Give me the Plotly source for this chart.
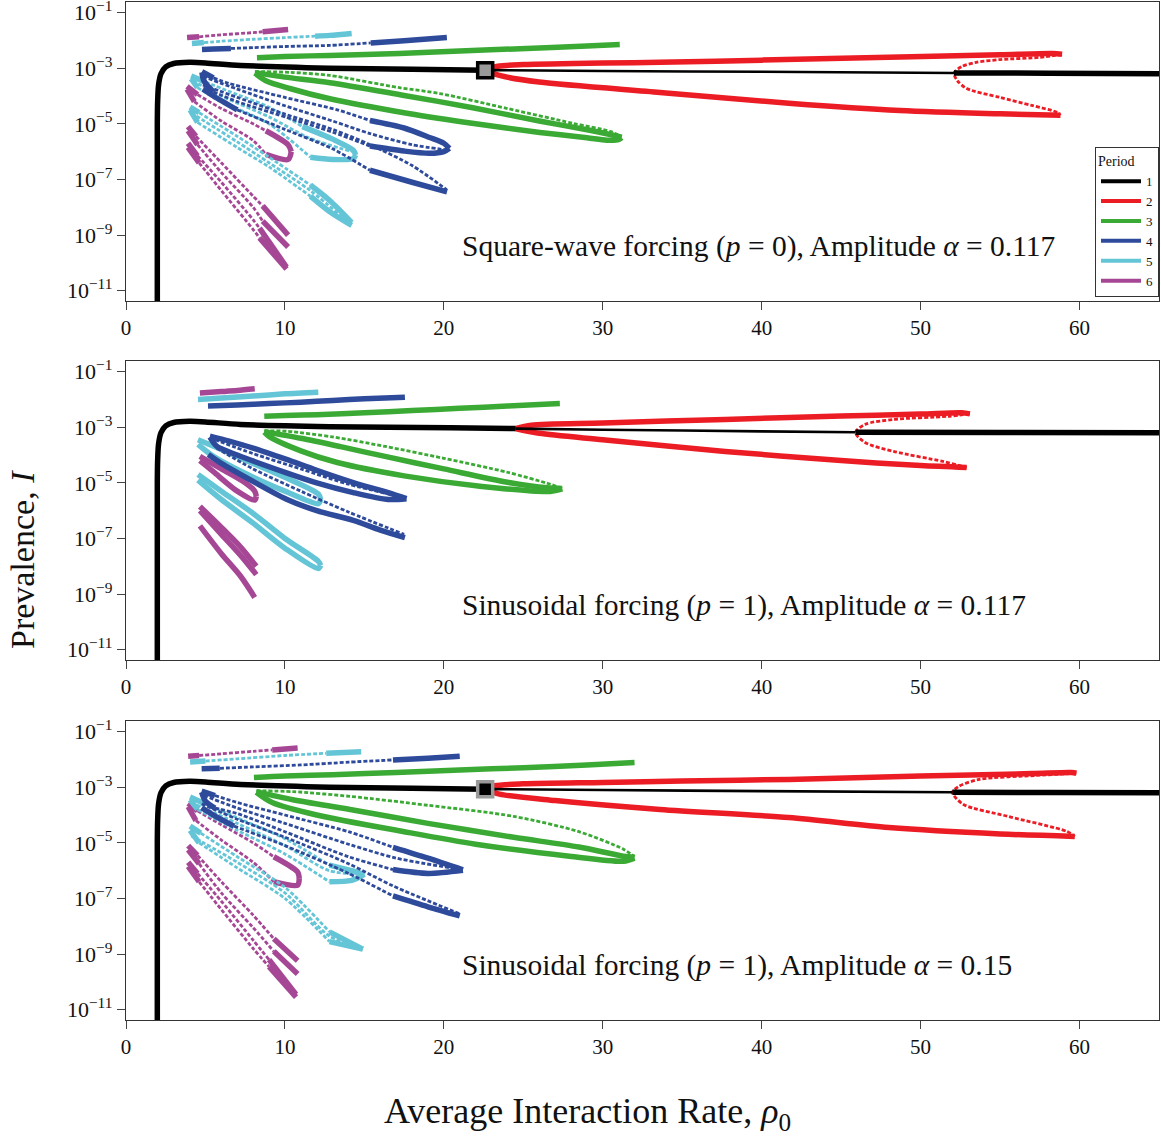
import plotly.graph_objects as go

# ---------------- colours ----------------
COLORS = {"black": "#000000", "red": "#EC1C24", "green": "#3AAA35",
          "blue": "#2E4A9B", "cyan": "#64C5D7", "magenta": "#A64795"}
PERIOD_LABELS = ["1", "2", "3", "4", "5", "6"]
PERIOD_COLORS = ["black", "red", "green", "blue", "cyan", "magenta"]
PANEL_TEXT = ["Square-wave forcing (<i>p</i> = 0), Amplitude <i>α</i> = 0.117",
              "Sinusoidal forcing (<i>p</i> = 1), Amplitude <i>α</i> = 0.117",
              "Sinusoidal forcing (<i>p</i> = 1), Amplitude <i>α</i> = 0.15"]
X_TICKS = [0, 10, 20, 30, 40, 50, 60]
Y_TICK_EXP = [-11, -9, -7, -5, -3, -1]
# branch data: rho0 values (X), log10 prevalence (E), stability flags (S stable / U unstable)

# ================= PANEL 1 : square wave, alpha 0.117 =================
P1_BLACK_X = [1.97, 1.97, 1.99, 2.05, 2.2, 2.5, 3.0, 4.0, 5.0, 7.2, 12.8, 18.0, 22.6, 30.0, 40.0, 52.1, 58.0, 65.0]
P1_BLACK_E = [-11.5, -5.0, -4.2, -3.6, -3.2, -2.95, -2.83, -2.79, -2.81, -2.9, -3.0, -3.04, -3.07, -3.1, -3.13, -3.17, -3.18, -3.2]
P1_BLACK_S = "SSSSSSSSSSSSSUUSSS"
P1_RED_X = [22.6, 23.4, 25.0, 30.0, 33.6, 40.0, 48.7, 55.0, 58.3, 58.9, 57.5, 55.0, 53.5, 52.6, 52.1, 52.3, 52.9, 55.0, 57.0, 58.6,
            58.8, 55.0, 48.7, 41.9, 33.6, 26.0, 23.5, 22.6]
P1_RED_E = [-3.07, -2.93, -2.87, -2.81, -2.79, -2.71, -2.6, -2.52, -2.47, -2.5, -2.61, -2.69, -2.79, -2.94, -3.17, -3.44, -3.73, -4.05, -4.34, -4.59,
            -4.69, -4.64, -4.52, -4.27, -3.87, -3.5, -3.26, -3.07]
P1_RED_S = "SSSSSSSSSSUUUUUUUUUUSSSSSSSS"
P1_GREEN_TOP_X = [8.24, 10.0, 12.8, 17.2, 21.0, 24.8, 29.0, 31.07]
P1_GREEN_TOP_E = [-2.62, -2.58, -2.54, -2.47, -2.38, -2.3, -2.2, -2.15]
P1_GREEN_D_X = [8.11, 10.31, 12.83, 17.2, 19.75, 24.0, 28.11, 30.5, 31.19]
P1_GREEN_D_E = [-3.12, -3.15, -3.26, -3.7, -3.91, -4.45, -4.98, -5.28, -5.47]
P1_GREEN_A_X = [8.11, 10.0, 12.83, 17.5, 21.82, 26.0, 29.18, 30.6, 31.19]
P1_GREEN_A_E = [-3.16, -3.32, -3.52, -3.98, -4.42, -4.9, -5.23, -5.4, -5.48]
P1_GREEN_B_X = [8.11, 8.8, 10.31, 12.83, 17.67, 22.0, 26.04, 29.0, 30.25, 31.0, 31.19]
P1_GREEN_B_E = [-3.18, -3.45, -3.73, -4.1, -4.62, -5.0, -5.31, -5.5, -5.59, -5.57, -5.5]
P1_BLUE_TOP_X = [4.78, 5.5, 6.6, 8.0, 10.0, 12.83, 15.4, 17.5, 20.19]
P1_BLUE_TOP_E = [-2.33, -2.31, -2.29, -2.26, -2.22, -2.18, -2.09, -2.01, -1.9]
P1_BLUE_TOP_S = "SSSUUUSSS"
P1_BLUE_LU_X = [4.78, 5.5, 6.5, 10.0, 13.3, 15.35, 17.5, 19.1, 20.0, 20.35]
P1_BLUE_LU_E = [-3.12, -3.35, -3.55, -4.05, -4.5, -4.88, -5.15, -5.49, -5.7, -5.88]
P1_BLUE_LU_S = "SSUUUSSSSS"
P1_BLUE_LL_X = [4.78, 4.9, 5.5, 7.0, 10.0, 13.0, 15.35, 17.5, 19.1, 20.0, 20.35]
P1_BLUE_LL_E = [-3.15, -3.45, -3.85, -4.2, -4.75, -5.3, -5.8, -5.98, -6.06, -6.0, -5.88]
P1_BLUE_LL_S = "SSSUUUSSSSS"
P1_BLUE_D1_X = [4.84, 7.0, 10.0, 13.0, 15.35, 18.0, 20.3]
P1_BLUE_D1_E = [-3.3, -3.75, -4.35, -4.9, -5.35, -5.75, -5.95]
P1_BLUE_D2_X = [4.84, 7.0, 10.0, 13.0, 15.35, 18.0, 20.2]
P1_BLUE_D2_E = [-3.6, -4.05, -4.65, -5.2, -5.75, -6.5, -7.38]
P1_BLUE_LOW_X = [4.84, 5.5, 7.0, 10.0, 13.0, 15.35, 18.0, 20.2]
P1_BLUE_LOW_E = [-3.75, -4.0, -4.5, -5.2, -5.9, -6.67, -7.1, -7.45]
P1_BLUE_LOW_S = "SSSUUSSS"
P1_CYAN_TOP_X = [4.15, 4.9, 6.0, 8.0, 10.0, 11.9, 12.83, 14.2]
P1_CYAN_TOP_E = [-2.11, -2.08, -2.03, -1.96, -1.9, -1.85, -1.82, -1.75]
P1_CYAN_TOP_S = "SSUUUSSS"
P1_CYAN_1U_X = [4.1, 5.0, 7.0, 9.0, 11.1, 13.0, 14.3, 14.45]
P1_CYAN_1U_E = [-3.28, -3.5, -3.95, -4.4, -5.1, -5.55, -5.95, -6.12]
P1_CYAN_1U_S = "SSUUSSSS"
P1_CYAN_1L_X = [4.1, 4.5, 6.0, 9.0, 11.6, 13.0, 14.3, 14.45]
P1_CYAN_1L_E = [-3.38, -3.7, -4.2, -5.0, -6.2, -6.28, -6.25, -6.12]
P1_CYAN_1L_S = "SSUUSSSS"
P1_CYAN_1D_X = [4.2, 6.0, 9.0, 11.5, 14.2]
P1_CYAN_1D_E = [-3.45, -4.0, -4.75, -5.5, -6.0]
P1_CYAN_2U_X = [4.03, 4.6, 7.0, 9.0, 11.6, 12.8, 14.2]
P1_CYAN_2U_E = [-4.4, -4.6, -5.45, -6.2, -7.2, -7.75, -8.55]
P1_CYAN_2U_S = "SSUUSSS"
P1_CYAN_2L_X = [4.03, 4.5, 7.0, 9.0, 11.6, 12.8, 14.2]
P1_CYAN_2L_E = [-4.5, -4.95, -5.85, -6.55, -7.6, -8.15, -8.65]
P1_CYAN_2L_S = "SSUUSSS"
P1_CYAN_2D_X = [4.1, 7.0, 9.0, 11.6, 14.1]
P1_CYAN_2D_E = [-4.6, -5.65, -6.4, -7.4, -8.6]
P1_MAG_TOP_X = [3.84, 4.6, 6.0, 8.0, 8.6, 10.2]
P1_MAG_TOP_E = [-1.9, -1.87, -1.8, -1.72, -1.69, -1.61]
P1_MAG_TOP_S = "SSUUSS"
P1_MAG_1U_X = [3.84, 4.5, 6.0, 8.0, 8.8, 10.2, 10.4]
P1_MAG_1U_E = [-3.65, -3.95, -4.45, -5.0, -5.25, -5.75, -6.0]
P1_MAG_1L_X = [3.84, 4.3, 6.0, 8.0, 8.8, 10.2, 10.4]
P1_MAG_1L_E = [-3.75, -4.2, -4.9, -5.6, -6.1, -6.28, -6.0]
P1_MAG_1_S = "SSUUSSS"
P1_MAG_2U_X = [3.9, 4.4, 6.0, 8.0, 8.6, 10.2]
P1_MAG_2U_E = [-5.1, -5.45, -6.4, -7.6, -7.95, -9.0]
P1_MAG_2L_X = [3.9, 4.5, 6.0, 8.0, 8.6, 10.2]
P1_MAG_2L_E = [-5.25, -5.75, -6.75, -8.0, -8.5, -9.43]
P1_MAG_3U_X = [3.9, 4.5, 6.0, 8.0, 8.4, 10.1]
P1_MAG_3U_E = [-5.7, -6.15, -7.1, -8.45, -8.75, -10.15]
P1_MAG_3L_X = [3.9, 4.6, 6.0, 8.0, 8.4, 10.1]
P1_MAG_3L_E = [-5.85, -6.4, -7.4, -8.8, -9.1, -10.22]
P1_MAG_23_S = "SSUUSS"
P1_SQUARE = (22.6, -3.07)

# ================= PANEL 2 : sinusoidal, alpha 0.117 =================
P2_BLACK_X = [1.97, 1.97, 1.99, 2.05, 2.2, 2.5, 3.0, 4.0, 5.0, 7.2, 12.8, 20.4, 24.5, 30.0, 40.0, 45.9, 55.0, 65.0]
P2_BLACK_E = [-11.5, -5.0, -4.2, -3.6, -3.2, -2.95, -2.83, -2.79, -2.81, -2.9, -2.98, -3.02, -3.05, -3.09, -3.15, -3.18, -3.19, -3.2]
P2_BLACK_S = "SSSSSSSSSSSSSUUSSS"
P2_RED_X = [24.5, 25.5, 30.0, 37.7, 45.0, 50.0, 52.6, 53.1, 51.7, 48.3, 46.5, 45.9, 46.5, 48.3, 51.4, 52.6,
            52.9, 50.0, 45.0, 37.7, 30.0, 26.0, 24.5]
P2_RED_E = [-3.05, -2.93, -2.85, -2.72, -2.6, -2.53, -2.48, -2.52, -2.61, -2.72, -2.9, -3.19, -3.55, -3.87, -4.23, -4.4,
            -4.45, -4.38, -4.2, -3.87, -3.45, -3.22, -3.05]
P2_RED_S = "SSSSSSSSUUUUUUUUSSSSSSS"
P2_GREEN_TOP_X = [8.7, 10.0, 12.0, 15.0, 18.0, 21.0, 24.0, 27.3]
P2_GREEN_TOP_E = [-2.61, -2.58, -2.55, -2.48, -2.4, -2.32, -2.24, -2.15]
P2_GREEN_D_X = [8.7, 10.2, 13.0, 16.3, 20.0, 24.0, 26.7, 27.45]
P2_GREEN_D_E = [-3.13, -3.15, -3.35, -3.69, -4.12, -4.62, -5.05, -5.2]
P2_GREEN_A_X = [8.7, 11.0, 13.5, 16.3, 20.0, 24.0, 26.5, 27.45]
P2_GREEN_A_E = [-3.16, -3.4, -3.7, -4.05, -4.5, -4.98, -5.18, -5.2]
P2_GREEN_B_X = [8.7, 9.0, 11.0, 13.3, 17.5, 22.4, 26.7, 27.45]
P2_GREEN_B_E = [-3.18, -3.33, -3.85, -4.27, -4.75, -5.13, -5.31, -5.22]
P2_BLUE_TOP_X = [5.16, 7.0, 9.0, 11.0, 13.0, 15.0, 17.55]
P2_BLUE_TOP_E = [-2.24, -2.2, -2.15, -2.1, -2.04, -1.98, -1.92]
P2_BLUE_LU_X = [5.28, 6.5, 8.0, 10.1, 12.0, 14.3, 16.5, 17.65]
P2_BLUE_LU_E = [-3.32, -3.5, -3.75, -4.16, -4.55, -4.99, -5.35, -5.57]
P2_BLUE_LL_X = [5.28, 5.7, 7.0, 10.1, 12.0, 14.3, 16.5, 17.65]
P2_BLUE_LL_E = [-3.36, -3.68, -4.0, -4.64, -5.0, -5.35, -5.6, -5.57]
P2_BLUE_D1_X = [5.6, 8.0, 11.0, 14.0, 17.3]
P2_BLUE_D1_E = [-3.45, -3.95, -4.5, -5.05, -5.5]
P2_BLUE_D2_X = [5.7, 8.0, 11.0, 14.0, 17.5]
P2_BLUE_D2_E = [-3.75, -4.5, -5.3, -6.05, -6.85]
P2_BLUE_LOW_X = [5.18, 6.0, 8.0, 10.1, 12.0, 14.3, 16.0, 17.55]
P2_BLUE_LOW_E = [-3.98, -4.3, -4.95, -5.59, -6.0, -6.35, -6.7, -6.97]
P2_CYAN_TOP_X = [4.53, 6.0, 8.0, 10.0, 12.1]
P2_CYAN_TOP_E = [-2.0, -1.95, -1.88, -1.8, -1.74]
P2_CYAN_1U_X = [4.53, 6.0, 8.0, 10.0, 12.1, 12.25]
P2_CYAN_1U_E = [-3.45, -3.8, -4.3, -4.8, -5.4, -5.6]
P2_CYAN_1L_X = [4.53, 5.5, 8.0, 10.0, 12.1, 12.25]
P2_CYAN_1L_E = [-3.62, -4.05, -4.8, -5.3, -5.75, -5.6]
P2_CYAN_2U_X = [4.53, 6.0, 8.0, 10.0, 12.1, 12.25]
P2_CYAN_2U_E = [-4.7, -5.3, -6.1, -7.0, -7.82, -7.97]
P2_CYAN_2L_X = [4.53, 6.0, 8.0, 10.0, 12.1, 12.25]
P2_CYAN_2L_E = [-4.9, -5.6, -6.45, -7.35, -8.08, -7.97]
P2_MAG_TOP_X = [4.65, 6.0, 7.0, 8.1]
P2_MAG_TOP_E = [-1.77, -1.72, -1.68, -1.62]
P2_MAG_1U_X = [4.65, 6.0, 7.5, 8.1, 8.2]
P2_MAG_1U_E = [-4.05, -4.5, -5.0, -5.3, -5.48]
P2_MAG_1L_X = [4.65, 5.5, 7.0, 8.1, 8.2]
P2_MAG_1L_E = [-4.2, -4.6, -5.3, -5.62, -5.48]
P2_MAG_2U_X = [4.65, 6.0, 7.2, 8.2]
P2_MAG_2U_E = [-5.85, -6.6, -7.3, -8.0]
P2_MAG_2L_X = [4.65, 6.0, 7.2, 8.2]
P2_MAG_2L_E = [-6.0, -6.85, -7.6, -8.3]
P2_MAG_3_X = [4.65, 6.0, 7.2, 8.1]
P2_MAG_3_E = [-6.55, -7.55, -8.35, -9.12]

# ================= PANEL 3 : sinusoidal, alpha 0.15 =================
P3_BLACK_X = [1.97, 1.97, 1.99, 2.05, 2.2, 2.5, 3.0, 4.0, 5.0, 7.2, 12.8, 18.0, 22.6, 30.0, 40.0, 52.0, 58.0, 65.0]
P3_BLACK_E = [-11.5, -5.0, -4.2, -3.6, -3.2, -2.95, -2.83, -2.79, -2.81, -2.9, -3.0, -3.04, -3.07, -3.1, -3.14, -3.18, -3.19, -3.2]
P3_BLACK_S = "SSSSSSSSSSSSSUUSSS"
P3_RED_X = [22.6, 23.2, 25.0, 30.0, 35.0, 41.7, 50.0, 57.0, 59.5, 59.8, 57.2, 53.7, 52.4, 52.0, 52.7, 55.5, 59.2,
            59.7, 55.0, 48.0, 41.7, 33.6, 27.0, 23.5, 22.6]
P3_RED_E = [-3.07, -2.95, -2.88, -2.83, -2.78, -2.72, -2.6, -2.51, -2.47, -2.5, -2.58, -2.72, -2.97, -3.19, -3.62, -4.05, -4.59,
            -4.77, -4.68, -4.45, -4.09, -3.8, -3.48, -3.25, -3.07]
P3_RED_S = "SSSSSSSSSSUUUUUUUSSSSSSSS"
P3_GREEN_TOP_X = [8.05, 10.0, 13.0, 17.0, 21.0, 25.0, 29.0, 32.0]
P3_GREEN_TOP_E = [-2.65, -2.6, -2.55, -2.47, -2.38, -2.3, -2.2, -2.11]
P3_GREEN_D_X = [8.2, 10.5, 14.1, 19.0, 24.4, 28.5, 31.3, 32.0]
P3_GREEN_D_E = [-3.13, -3.16, -3.33, -3.65, -4.05, -4.6, -5.23, -5.5]
P3_GREEN_A_X = [8.2, 10.5, 14.1, 19.0, 24.4, 28.5, 31.3, 32.0]
P3_GREEN_A_E = [-3.16, -3.45, -3.8, -4.3, -4.8, -5.15, -5.48, -5.52]
P3_GREEN_B_X = [8.2, 9.2, 12.0, 17.5, 22.0, 27.9, 31.3, 32.0]
P3_GREEN_B_E = [-3.18, -3.55, -4.0, -4.6, -5.05, -5.48, -5.66, -5.55]
P3_BLUE_TOP_X = [4.76, 5.9, 8.0, 11.0, 14.0, 16.8, 19.0, 21.0]
P3_BLUE_TOP_E = [-2.34, -2.32, -2.27, -2.2, -2.1, -2.02, -1.96, -1.89]
P3_BLUE_TOP_S = "SSUUUSSS"
P3_BLUE_LU_X = [4.76, 5.6, 7.0, 10.0, 14.0, 16.8, 19.0, 21.2]
P3_BLUE_LU_E = [-3.14, -3.3, -3.55, -4.0, -4.6, -5.16, -5.55, -5.97]
P3_BLUE_LU_S = "SSUUUSSS"
P3_BLUE_LL_X = [4.76, 5.0, 5.6, 7.0, 10.0, 14.0, 16.8, 19.0, 21.2]
P3_BLUE_LL_E = [-3.18, -3.5, -3.75, -3.95, -4.6, -5.5, -5.96, -6.1, -5.99]
P3_BLUE_LL_S = "SSSUUUSSS"
P3_BLUE_D1_X = [4.9, 7.0, 10.0, 14.0, 17.0, 21.2]
P3_BLUE_D1_E = [-3.3, -3.75, -4.3, -5.05, -5.55, -5.97]
P3_BLUE_D2_X = [4.76, 7.0, 10.0, 14.0, 16.8, 21.0]
P3_BLUE_D2_E = [-3.6, -4.15, -4.8, -5.75, -6.55, -7.55]
P3_BLUE_LOW_X = [4.76, 5.5, 6.8, 10.0, 14.0, 16.8, 19.0, 21.0]
P3_BLUE_LOW_E = [-3.74, -4.0, -4.4, -5.1, -6.1, -6.91, -7.3, -7.63]
P3_BLUE_LOW_S = "SSSUUSSS"
P3_CYAN_TOP_X = [4.03, 5.0, 7.0, 10.0, 12.6, 14.8]
P3_CYAN_TOP_E = [-2.09, -2.06, -1.98, -1.86, -1.78, -1.73]
P3_CYAN_TOP_S = "SSUUSS"
P3_CYAN_1U_X = [4.03, 5.0, 7.0, 10.0, 12.8, 14.2, 15.0]
P3_CYAN_1U_E = [-3.35, -3.6, -4.1, -4.85, -5.8, -6.0, -6.13]
P3_CYAN_1L_X = [4.03, 4.5, 7.0, 10.0, 12.8, 14.2, 15.0]
P3_CYAN_1L_E = [-3.45, -3.8, -4.55, -5.4, -6.4, -6.35, -6.13]
P3_CYAN_1D_X = [4.1, 7.0, 10.0, 12.8, 15.0]
P3_CYAN_1D_E = [-3.55, -4.3, -5.1, -6.0, -6.13]
P3_CYAN_2U_X = [4.03, 4.7, 7.0, 10.0, 12.8, 14.9]
P3_CYAN_2U_E = [-4.4, -4.65, -5.5, -6.6, -8.2, -8.82]
P3_CYAN_2L_X = [4.03, 4.6, 7.0, 10.0, 12.8, 14.9]
P3_CYAN_2L_E = [-4.55, -5.0, -5.9, -7.0, -8.55, -8.82]
P3_CYAN_2D_X = [4.1, 7.0, 10.0, 12.8, 14.9]
P3_CYAN_2D_E = [-4.75, -5.7, -6.8, -8.35, -8.82]
P3_CYAN_LOOP_S = "SSUUSSS"
P3_CYAN_LOOP2_S = "SSUUSS"
P3_MAG_TOP_X = [3.91, 4.6, 6.0, 8.0, 9.2, 10.8]
P3_MAG_TOP_E = [-1.89, -1.86, -1.8, -1.71, -1.66, -1.59]
P3_MAG_TOP_S = "SSUUSS"
P3_MAG_1U_X = [3.91, 4.5, 6.0, 8.0, 9.3, 10.8, 10.9]
P3_MAG_1U_E = [-3.58, -3.85, -4.35, -5.0, -5.5, -6.05, -6.3]
P3_MAG_1L_X = [3.91, 4.4, 6.0, 8.0, 9.3, 10.8, 10.9]
P3_MAG_1L_E = [-3.7, -4.2, -4.9, -5.7, -6.4, -6.52, -6.3]
P3_MAG_1_S = "SSUUSSS"
P3_MAG_2U_X = [3.91, 4.5, 6.0, 8.0, 9.3, 10.8]
P3_MAG_2U_E = [-5.1, -5.45, -6.4, -7.6, -8.45, -9.24]
P3_MAG_2L_X = [3.91, 4.6, 6.0, 8.0, 9.3, 10.8]
P3_MAG_2L_E = [-5.25, -5.75, -6.8, -8.05, -8.9, -9.72]
P3_MAG_3U_X = [3.91, 4.5, 6.0, 8.0, 9.0, 10.7]
P3_MAG_3U_E = [-5.7, -6.1, -7.1, -8.5, -9.2, -10.45]
P3_MAG_3L_X = [3.91, 4.6, 6.0, 8.0, 9.0, 10.7]
P3_MAG_3L_E = [-5.85, -6.4, -7.4, -8.8, -9.45, -10.55]
P3_MAG_23_S = "SSUUSS"
P3_SQUARE = (22.6, -3.07)

# table of branches: (panel, colour, X, E, flags)
BRANCHES = [
    (1, "magenta", P1_MAG_TOP_X, P1_MAG_TOP_E, P1_MAG_TOP_S),
    (1, "magenta", P1_MAG_1U_X, P1_MAG_1U_E, P1_MAG_1_S),
    (1, "magenta", P1_MAG_1L_X, P1_MAG_1L_E, P1_MAG_1_S),
    (1, "magenta", P1_MAG_2U_X, P1_MAG_2U_E, P1_MAG_23_S),
    (1, "magenta", P1_MAG_2L_X, P1_MAG_2L_E, P1_MAG_23_S),
    (1, "magenta", P1_MAG_3U_X, P1_MAG_3U_E, P1_MAG_23_S),
    (1, "magenta", P1_MAG_3L_X, P1_MAG_3L_E, P1_MAG_23_S),
    (1, "cyan", P1_CYAN_TOP_X, P1_CYAN_TOP_E, P1_CYAN_TOP_S),
    (1, "cyan", P1_CYAN_1U_X, P1_CYAN_1U_E, P1_CYAN_1U_S),
    (1, "cyan", P1_CYAN_1L_X, P1_CYAN_1L_E, P1_CYAN_1L_S),
    (1, "cyan", P1_CYAN_1D_X, P1_CYAN_1D_E, "U"),
    (1, "cyan", P1_CYAN_2U_X, P1_CYAN_2U_E, P1_CYAN_2U_S),
    (1, "cyan", P1_CYAN_2L_X, P1_CYAN_2L_E, P1_CYAN_2L_S),
    (1, "cyan", P1_CYAN_2D_X, P1_CYAN_2D_E, "U"),
    (1, "blue", P1_BLUE_TOP_X, P1_BLUE_TOP_E, P1_BLUE_TOP_S),
    (1, "blue", P1_BLUE_LU_X, P1_BLUE_LU_E, P1_BLUE_LU_S),
    (1, "blue", P1_BLUE_LL_X, P1_BLUE_LL_E, P1_BLUE_LL_S),
    (1, "blue", P1_BLUE_D1_X, P1_BLUE_D1_E, "U"),
    (1, "blue", P1_BLUE_D2_X, P1_BLUE_D2_E, "U"),
    (1, "blue", P1_BLUE_LOW_X, P1_BLUE_LOW_E, P1_BLUE_LOW_S),
    (1, "green", P1_GREEN_TOP_X, P1_GREEN_TOP_E, "S"),
    (1, "green", P1_GREEN_D_X, P1_GREEN_D_E, "U"),
    (1, "green", P1_GREEN_A_X, P1_GREEN_A_E, "S"),
    (1, "green", P1_GREEN_B_X, P1_GREEN_B_E, "S"),
    (1, "red", P1_RED_X, P1_RED_E, P1_RED_S),
    (1, "black", P1_BLACK_X, P1_BLACK_E, P1_BLACK_S),

    (2, "magenta", P2_MAG_TOP_X, P2_MAG_TOP_E, "S"),
    (2, "magenta", P2_MAG_1U_X, P2_MAG_1U_E, "S"),
    (2, "magenta", P2_MAG_1L_X, P2_MAG_1L_E, "S"),
    (2, "magenta", P2_MAG_2U_X, P2_MAG_2U_E, "S"),
    (2, "magenta", P2_MAG_2L_X, P2_MAG_2L_E, "S"),
    (2, "magenta", P2_MAG_3_X, P2_MAG_3_E, "S"),
    (2, "cyan", P2_CYAN_TOP_X, P2_CYAN_TOP_E, "S"),
    (2, "cyan", P2_CYAN_1U_X, P2_CYAN_1U_E, "S"),
    (2, "cyan", P2_CYAN_1L_X, P2_CYAN_1L_E, "S"),
    (2, "cyan", P2_CYAN_2U_X, P2_CYAN_2U_E, "S"),
    (2, "cyan", P2_CYAN_2L_X, P2_CYAN_2L_E, "S"),
    (2, "blue", P2_BLUE_TOP_X, P2_BLUE_TOP_E, "S"),
    (2, "blue", P2_BLUE_D1_X, P2_BLUE_D1_E, "U"),
    (2, "blue", P2_BLUE_D2_X, P2_BLUE_D2_E, "U"),
    (2, "blue", P2_BLUE_LU_X, P2_BLUE_LU_E, "S"),
    (2, "blue", P2_BLUE_LL_X, P2_BLUE_LL_E, "S"),
    (2, "blue", P2_BLUE_LOW_X, P2_BLUE_LOW_E, "S"),
    (2, "green", P2_GREEN_TOP_X, P2_GREEN_TOP_E, "S"),
    (2, "green", P2_GREEN_D_X, P2_GREEN_D_E, "U"),
    (2, "green", P2_GREEN_A_X, P2_GREEN_A_E, "S"),
    (2, "green", P2_GREEN_B_X, P2_GREEN_B_E, "S"),
    (2, "red", P2_RED_X, P2_RED_E, P2_RED_S),
    (2, "black", P2_BLACK_X, P2_BLACK_E, P2_BLACK_S),

    (3, "magenta", P3_MAG_TOP_X, P3_MAG_TOP_E, P3_MAG_TOP_S),
    (3, "magenta", P3_MAG_1U_X, P3_MAG_1U_E, P3_MAG_1_S),
    (3, "magenta", P3_MAG_1L_X, P3_MAG_1L_E, P3_MAG_1_S),
    (3, "magenta", P3_MAG_2U_X, P3_MAG_2U_E, P3_MAG_23_S),
    (3, "magenta", P3_MAG_2L_X, P3_MAG_2L_E, P3_MAG_23_S),
    (3, "magenta", P3_MAG_3U_X, P3_MAG_3U_E, P3_MAG_23_S),
    (3, "magenta", P3_MAG_3L_X, P3_MAG_3L_E, P3_MAG_23_S),
    (3, "cyan", P3_CYAN_TOP_X, P3_CYAN_TOP_E, P3_CYAN_TOP_S),
    (3, "cyan", P3_CYAN_1U_X, P3_CYAN_1U_E, P3_CYAN_LOOP_S),
    (3, "cyan", P3_CYAN_1L_X, P3_CYAN_1L_E, P3_CYAN_LOOP_S),
    (3, "cyan", P3_CYAN_1D_X, P3_CYAN_1D_E, "U"),
    (3, "cyan", P3_CYAN_2U_X, P3_CYAN_2U_E, P3_CYAN_LOOP2_S),
    (3, "cyan", P3_CYAN_2L_X, P3_CYAN_2L_E, P3_CYAN_LOOP2_S),
    (3, "cyan", P3_CYAN_2D_X, P3_CYAN_2D_E, "U"),
    (3, "blue", P3_BLUE_TOP_X, P3_BLUE_TOP_E, P3_BLUE_TOP_S),
    (3, "blue", P3_BLUE_LU_X, P3_BLUE_LU_E, P3_BLUE_LU_S),
    (3, "blue", P3_BLUE_LL_X, P3_BLUE_LL_E, P3_BLUE_LL_S),
    (3, "blue", P3_BLUE_D1_X, P3_BLUE_D1_E, "U"),
    (3, "blue", P3_BLUE_D2_X, P3_BLUE_D2_E, "U"),
    (3, "blue", P3_BLUE_LOW_X, P3_BLUE_LOW_E, P3_BLUE_LOW_S),
    (3, "green", P3_GREEN_TOP_X, P3_GREEN_TOP_E, "S"),
    (3, "green", P3_GREEN_D_X, P3_GREEN_D_E, "U"),
    (3, "green", P3_GREEN_A_X, P3_GREEN_A_E, "S"),
    (3, "green", P3_GREEN_B_X, P3_GREEN_B_E, "S"),
    (3, "red", P3_RED_X, P3_RED_E, P3_RED_S),
    (3, "black", P3_BLACK_X, P3_BLACK_E, P3_BLACK_S),
]

FONT = "Liberation Serif, Times New Roman, serif"
W_STABLE = 5.5
W_UNSTABLE = 2.8

fig = go.Figure()

# legend entries
for lab, cname in zip(PERIOD_LABELS, PERIOD_COLORS):
    fig.add_trace(go.Scatter(x=[None], y=[None], mode="lines", name=lab,
                             line=dict(color=COLORS[cname], width=4),
                             xaxis="x", yaxis="y", showlegend=True))


def split_runs(flags, n):
    if len(flags) == 1:
        flags = flags * n
    runs = []
    cur_t, cur = None, []
    for i in range(n - 1):
        t = flags[i] == "S" and flags[i + 1] == "S"
        if t != cur_t:
            if cur:
                runs.append((cur_t, cur))
            cur_t, cur = t, [i]
        cur.append(i + 1)
    runs.append((cur_t, cur))
    return runs


for panel, cname, xs, es, flags in BRANCHES:
    ax = "" if panel == 1 else str(panel)
    for stable, idx in split_runs(flags, len(xs)):
        if stable:
            line = dict(color=COLORS[cname], width=W_STABLE, shape="spline", smoothing=0.8)
        elif cname == "black":
            line = dict(color=COLORS[cname], width=2.6, shape="spline", smoothing=0.8)
        else:
            line = dict(color=COLORS[cname], width=W_UNSTABLE, dash="4px,2px", shape="spline", smoothing=0.8)
        fig.add_trace(go.Scatter(x=[xs[j] for j in idx], y=[10 ** es[j] for j in idx],
                                 mode="lines", line=line, showlegend=False, hoverinfo="skip",
                                 xaxis="x" + ax, yaxis="y" + ax))

# bifurcation squares
fig.add_trace(go.Scatter(x=[P1_SQUARE[0]], y=[10 ** P1_SQUARE[1]], mode="markers", showlegend=False,
                         marker=dict(symbol="square", size=15, color="#9a9a9a", line=dict(color="#000", width=3.5)),
                         xaxis="x", yaxis="y"))
fig.add_trace(go.Scatter(x=[P3_SQUARE[0]], y=[10 ** P3_SQUARE[1]], mode="markers", showlegend=False,
                         marker=dict(symbol="square", size=15, color="#000", line=dict(color="#9a9a9a", width=3.5)),
                         xaxis="x3", yaxis="y3"))

# layout
TOP, BOT = 2, 116
H, W = 1136, 1161
plot_h = H - TOP - BOT
PANEL_PX = [(2, 301), (361, 660), (721, 1020)]
tick_text = ["10<sup>\u2212%d</sup>" % (-e) for e in Y_TICK_EXP]

layout = dict(width=W, height=H, margin=dict(l=126, r=2, t=TOP, b=BOT, autoexpand=False),
              paper_bgcolor="white", plot_bgcolor="white",
              font=dict(family=FONT, color="#111"),
              showlegend=True)
for k, (ytop, ybot) in enumerate(PANEL_PX, start=1):
    dom = [(H - BOT - ybot) / plot_h, (H - BOT - ytop) / plot_h]
    suffix = "" if k == 1 else str(k)
    layout["xaxis" + suffix] = dict(domain=[0, 1], range=[0, 65], anchor="y" + suffix, automargin=False,
                                    ticklabeloverflow="allow",
                                    tickvals=X_TICKS, ticks="outside", ticklen=8, tickwidth=1.2,
                                    tickcolor="#444", showline=True, mirror=True, linecolor="#333",
                                    linewidth=1.3, showgrid=False, zeroline=False,
                                    tickfont=dict(family=FONT, size=21, color="#111"))
    layout["yaxis" + suffix] = dict(domain=dom, type="log", range=[-11.37, -0.62], anchor="x" + suffix,
                                    automargin=False, ticklabeloverflow="allow",
                                    tickvals=[10 ** e for e in Y_TICK_EXP], ticktext=tick_text,
                                    ticks="outside", ticklen=8, tickwidth=1.2, tickcolor="#444",
                                    showline=True, mirror=True, linecolor="#333", linewidth=1.3,
                                    showgrid=False, zeroline=False,
                                    tickfont=dict(family=FONT, size=22, color="#111"))

annotations = []
for k, txt in enumerate(PANEL_TEXT, start=1):
    suffix = "" if k == 1 else str(k)
    annotations.append(dict(x=21.0, y=-9.40, xref="x" + suffix, yref="y" + suffix, text=txt,
                            showarrow=False, xanchor="left", yanchor="middle",
                            font=dict(family=FONT, size=29.5, color="#111")))
annotations.append(dict(x=(22 - 126) / 1033, y=(H - BOT - 560) / plot_h, xref="paper", yref="paper",
                        text="Prevalence, <i>I</i>", textangle=-90, showarrow=False,
                        xanchor="center", yanchor="middle", font=dict(family=FONT, size=34, color="#111")))
annotations.append(dict(x=(587 - 126) / 1033, y=(H - BOT - 1113) / plot_h, xref="paper", yref="paper",
                        text="Average Interaction Rate, <i>ρ</i><sub>0</sub>", showarrow=False,
                        xanchor="center", yanchor="middle", font=dict(family=FONT, size=36, color="#111")))
layout["annotations"] = annotations
layout["legend"] = dict(x=1.0, xanchor="right", y=(H - BOT - 297) / plot_h, yanchor="bottom",
                        title=dict(text="Period", font=dict(family=FONT, size=14)),
                        font=dict(family=FONT, size=13), bgcolor="white", bordercolor="#333",
                        borderwidth=1, itemwidth=40, tracegroupgap=0)
fig.update_layout(**layout)
fig.write_html("out.html")
